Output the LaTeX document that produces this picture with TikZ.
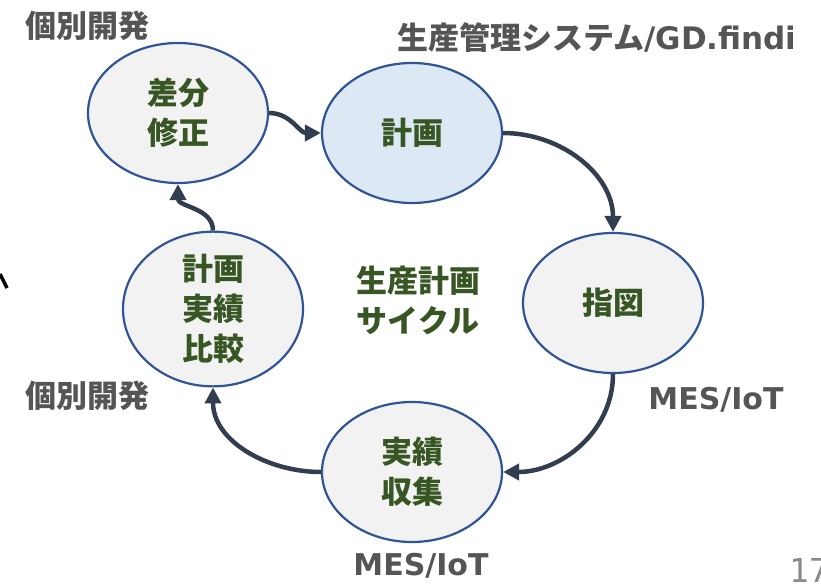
\documentclass[tikz,border=0pt]{standalone}
\usepackage{fontspec}
\setmainfont{Noto Sans CJK JP}
\newfontfamily\lat{DejaVu Sans}
\newfontfamily\mono{DejaVu Sans Mono}
\usetikzlibrary{shapes.geometric,arrows.meta}
\definecolor{ebd}{HTML}{2F5597}
\definecolor{efill}{HTML}{F2F2F2}
\definecolor{bfill}{HTML}{DDE8F5}
\definecolor{grn}{HTML}{375623}
\definecolor{arr}{HTML}{323E50}
\definecolor{lbl}{HTML}{555555}
\definecolor{pgnum}{HTML}{8A8A8A}
\begin{document}
\begin{tikzpicture}[x=1pt,y=-1pt,
  cyc/.style={ellipse, draw=ebd, line width=2.2pt, fill=efill, minimum width=180pt, minimum height=140pt, inner sep=0pt, text=grn, font=\fontsize{31}{40}\selectfont\bfseries, align=center},
  lab/.style={text=lbl, font=\fontsize{31}{40}\selectfont\bfseries, inner sep=0pt},
  flow/.style={draw=arr, line width=4.5pt, -{Triangle[length=16pt,width=16pt]}}]
\useasboundingbox (0,0) rectangle (821,583);
\fill[white] (0,0) rectangle (821,583);

\node[cyc] (sabun) at (178,113) {差分\\修正};
\node[cyc, fill=bfill] (keikaku) at (412,133) {計画};
\node[cyc] (shizu) at (613,303) {指図};
\node[cyc] (jisseki) at (412,472) {実績\\収集};
\node[cyc] (hikaku) at (213,309) {計画\\実績\\比較};

\node[text=grn, font=\fontsize{31}{40}\selectfont\bfseries, align=center, inner sep=0pt] (center) at (418,300) {生産計画\\サイクル};

\node[lab] (l1) at (87,26) {個別開発};
\node[lab] (l2) at (87,396) {個別開発};
\node[lab] (l3) at (597,38) {生産管理システム{\lat /GD.findi}};
\node[lab, font=\fontsize{30}{36}\selectfont\bfseries\lat] (l4) at (716,400) {MES/IoT};
\node[lab, font=\fontsize{30}{36}\selectfont\bfseries\lat] (l5) at (421,566) {MES/IoT};

\node[anchor=base west, inner sep=0pt, text=pgnum, font=\fontsize{33}{33}\selectfont\mono] (pg) at (789,582) {17};

\draw[flow] (sabun.east) to[out=0,in=180] (keikaku.west);
\draw[flow] (keikaku.east) to[out=0,in=90] (shizu.north);
\draw[flow] (shizu.south) to[out=-90,in=0] (jisseki.east);
\draw[flow] (jisseki.west) to[out=180,in=-90] (hikaku.south);
\draw[flow] (hikaku.north) to[out=90,in=-90] (sabun.south);

\coordinate (s1) at (0,274);
\coordinate (s2) at (7,288);
\draw[line width=3.5pt] (s1) -- (s2);
\end{tikzpicture}
\end{document}
